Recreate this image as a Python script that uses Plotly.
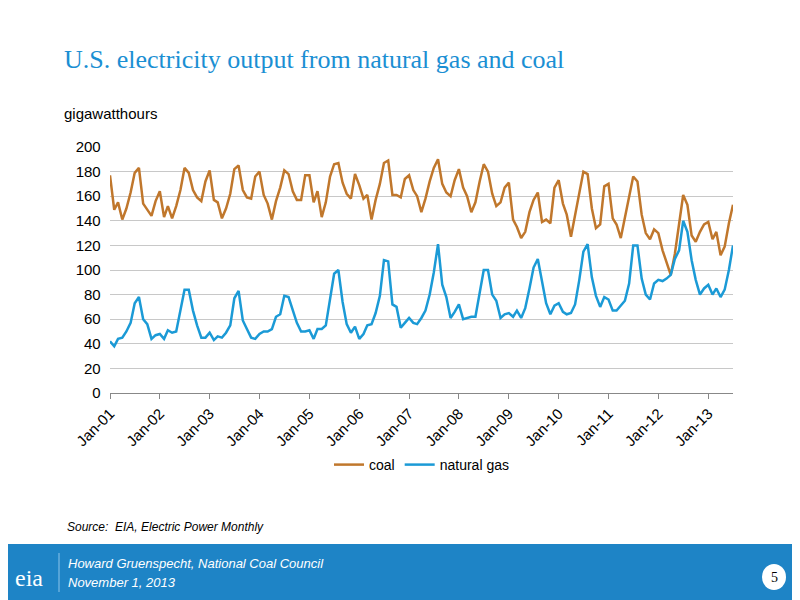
import plotly.graph_objects as go
import pandas as pd

months = pd.date_range("2001-01-01", "2013-07-01", freq="MS")
coal = [177,149,155,141,150,163,179,183,154,149,144,156,
        164,143,152,142,152,165,183,179,165,159,156,172,
        181,157,155,142,150,162,182,185,165,159,158,176,
        180,161,154,141,156,167,181,178,164,157,157,177,
        177,155,164,143,155,176,186,187,171,162,158,178,
        169,158,161,141,157,170,187,189,161,161,159,174,
        177,165,160,147,158,172,183,190,170,163,160,173,
        182,167,160,147,155,172,186,180,162,152,155,167,
        171,141,135,126,131,147,157,163,139,141,138,167,
        173,154,145,127,145,165,180,178,150,134,137,168,
        170,142,137,126,142,160,176,172,145,130,125,133,
        130,116,106,96,113,138,161,153,128,123,131,137,
        139,125,131,112,119,138,153]
gas = [42,38,44,45,50,57,73,78,60,56,44,47,
       48,44,51,49,50,66,84,84,67,55,45,45,
       49,43,46,45,49,55,77,83,59,52,45,44,
       48,50,50,52,62,64,79,78,67,57,50,50,
       51,44,52,52,55,75,97,100,74,56,49,54,
       44,48,55,56,65,79,108,107,72,70,53,57,
       61,57,56,61,67,80,98,121,88,78,61,66,
       72,60,61,62,62,83,100,100,80,75,61,64,
       65,62,67,61,69,85,102,109,90,73,64,71,
       73,66,64,65,72,92,115,121,94,79,70,78,
       76,67,67,71,75,89,120,120,93,80,76,89,
       92,91,93,96,109,116,140,131,108,92,80,85,
       88,80,85,78,84,100,120]

OFF = 8  # page body margin
L, R, T, B = 110 - OFF, 800 - 733 + OFF, 147 - OFF, 600 - 393 + OFF
W = 800 - L - R
H = 600 - T - B
def px(p):
    return (p - OFF - L) / W
def py(p):
    return (600 - B - (p - OFF)) / H

fig = go.Figure()
fig.add_trace(go.Scatter(x=months, y=coal, name="coal", mode="lines",
                         line=dict(color="#c0772c", width=2.5)))
fig.add_trace(go.Scatter(x=months, y=gas, name="natural gas", mode="lines",
                         line=dict(color="#1b9ad6", width=2.5)))

fig.update_layout(
    width=800, height=600, paper_bgcolor="white", plot_bgcolor="white",
    margin=dict(l=L, r=R, t=T, b=B, autoexpand=False),
    font=dict(family="Liberation Sans, Arial", size=15, color="black"),
    legend=dict(orientation="h", x=0.5, xanchor="center", y=py(465), yanchor="middle",
                font=dict(size=14)),
    xaxis=dict(type="date", range=[months[0], months[-1]], tickformat="%b-%y",
               dtick="M12", tick0="2001-01-01", tickangle=-45, ticks="outside",
               ticklen=5, tickcolor="#888", showgrid=False, showline=True,
               linecolor="#888", tickfont=dict(size=15)),
    yaxis=dict(range=[0, 200], dtick=20, showgrid=True, gridcolor="#c8c8c8",
               zeroline=False, tickfont=dict(size=15), ticksuffix="  "),
    shapes=[
        dict(type="rect", xref="paper", yref="paper", x0=px(0), x1=px(810), y0=py(8), y1=py(-10),
             fillcolor="#1f86c8", line_width=0, layer="below"),
        dict(type="rect", xref="paper", yref="paper", x0=px(0), x1=px(810), y0=py(620), y1=py(544),
             fillcolor="#1e84c6", line_width=0, layer="below"),
        dict(type="line", xref="paper", yref="paper", x0=px(59), x1=px(59), y0=py(592), y1=py(553),
             line=dict(color="#8cc4ea", width=1)),
        dict(type="circle", xref="paper", yref="paper", x0=px(762), x1=px(786), y0=py(590), y1=py(564),
             fillcolor="white", line_width=0),
    ],
)
for txt, x, y, anchor, fnt in [
    ("U.S. electricity output from natural gas and coal", 62, 60, "left",
     dict(family="Liberation Serif, Times New Roman", size=26, color="#1b8fd3")),
    ("gigawatthours", 62, 113, "left", dict(size=15)),
    ("<i>Source:  EIA, Electric Power Monthly</i>", 65, 527, "left", dict(size=12)),
    ("<i>Howard Gruenspecht, National Coal Council</i>", 66, 563, "left", dict(size=13, color="white")),
    ("<i>November 1, 2013</i>", 66, 582, "left", dict(size=13, color="white")),
    ("eia", 29, 578, "center", dict(family="Liberation Serif", size=24, color="white")),
    ("5", 774, 577, "center", dict(family="Liberation Serif", size=14, color="black")),
]:
    fig.add_annotation(text=txt, xref="paper", yref="paper", x=px(x), y=py(y),
                       xanchor=anchor, yanchor="middle", showarrow=False, font=fnt)
fig.write_html("out.html")
